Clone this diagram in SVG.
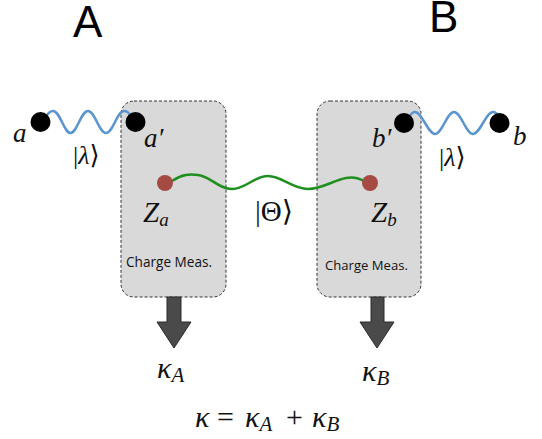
<svg xmlns="http://www.w3.org/2000/svg" width="542" height="439" viewBox="0 0 542 439">
<style>
.box{fill:#d9d9d9;stroke:#333;stroke-width:1;stroke-dasharray:3,2}
.title{font-family:"Liberation Sans","Open Sans",sans-serif;font-size:44px;fill:#000}
.m{font-family:"Liberation Serif","DejaVu Serif",serif;font-style:italic;font-size:27px;fill:#111}
.r{font-family:"Liberation Serif","DejaVu Serif",serif;font-size:26px;fill:#111}
.cm{font-family:"Open Sans","Liberation Sans",sans-serif;fill:#111}
.blue{fill:none;stroke:#5b95cf;stroke-width:2.5}
.green{fill:none;stroke:#1f8f1f;stroke-width:2.5}
.arrow{fill:#4a4a4a;stroke:#2a2a2a;stroke-width:1}
.dot{fill:#000}
.red{fill:#a64a44}
</style>
<rect width="542" height="439" fill="#fff"/>
<text class="title" x="73" y="37">A</text>
<text class="title" x="429" y="32">B</text>
<g id="boxA"><rect class="box" x="121" y="101" width="105" height="196" rx="13"/><text class="cm" style="font-size:13.6px" x="126" y="267">Charge Meas.</text></g>
<g id="boxB"><rect class="box" x="317" y="101" width="104" height="196" rx="13"/><text class="cm" style="font-size:13.1px" x="325" y="270">Charge Meas.</text></g>
<g id="connectors">
<path class="blue" d="M46,117 Q49,111 53,111 C60,111 64,133 70.5,133 C77,133 81,111 88,111 C95,111 99,133 106,133 C113,133 117,111 124,111 Q128,111 131,116"/>
<path class="blue" d="M409,117 Q412,112 415,112 C422,112 428,134 435,134 C442,134 447,112 454,112 C461,112 466,134 473,134 C480,134 486,112 493,112 Q496,112 499,116"/>
<path class="green" d="M172,181 C182,174 190,174 198,175 C212,177 218,189 232,189 C246,189 254,176 268,176 C282,176 292,189 308,189 C322,189 334,180 346,178 C356,176 362,180 368,183"/>
<polygon class="arrow" points="167,297 181,297 181,322 191,322 174,348 157,322 167,322"/>
<polygon class="arrow" points="371,297 384,297 384,322 394,322 377,348 360,322 371,322"/>
</g>
<g id="a"><circle class="dot" cx="40.5" cy="122" r="10"/><text class="m" x="13" y="142">a</text></g>
<g id="aprime"><circle class="dot" cx="135.5" cy="122" r="10"/><text class="m" x="144" y="147">a′</text></g>
<g id="bprime"><circle class="dot" cx="404" cy="123" r="10"/><text class="m" x="372" y="147">b′</text></g>
<g id="b"><circle class="dot" cx="499.5" cy="123" r="10"/><text class="m" x="513" y="145">b</text></g>
<g id="Za"><circle class="red" cx="165" cy="183" r="8"/><text class="m" style="font-size:29px" x="143" y="222">Z<tspan style="font-size:19px" dy="4">a</tspan></text></g>
<g id="Zb"><circle class="red" cx="370" cy="183" r="8"/><text class="m" style="font-size:29px" x="371" y="222">Z<tspan style="font-size:19px" dy="4">b</tspan></text></g>
<text class="r" x="73" y="164">|<tspan font-style="italic">λ</tspan>⟩</text>
<text class="r" x="439" y="166">|<tspan font-style="italic">λ</tspan>⟩</text>
<text class="r" style="font-size:29px" x="255" y="221">|Θ⟩</text>
<g id="kA"><text class="m" style="font-size:30px" x="157" y="378">κ<tspan style="font-size:21px" dy="4">A</tspan></text></g>
<g id="kB"><text class="m" style="font-size:30px" x="362" y="381">κ<tspan style="font-size:21px" dy="4">B</tspan></text></g>
<g id="eq">
<text class="m" style="font-size:30px" x="195" y="427">κ</text>
<text class="r" style="font-size:30px" x="217" y="427">=</text>
<text class="m" style="font-size:30px" x="245" y="427">κ<tspan style="font-size:21px" dy="4">A</tspan></text>
<text class="r" style="font-size:30px" x="286" y="427">+</text>
<text class="m" style="font-size:30px" x="312" y="427">κ<tspan style="font-size:21px" dy="4">B</tspan></text>
</g>
</svg>
